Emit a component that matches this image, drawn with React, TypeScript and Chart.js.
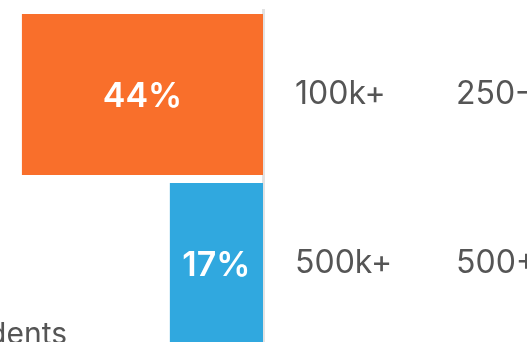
import React, { useEffect, useRef } from "react";
import { Chart, registerables } from "chart.js";

Chart.register(...registerables);

// ---- data ----
const categories: string[] = ["100k+", "500k+"];
const secondColumn: string[] = ["250-499", "500+"];
const values: number[] = [44, 17];
const valueLabels: string[] = ["44%", "17%"];
const barColors: string[] = ["#F96F2B", "#30A8DF"];
const footnote = "Respondents";

const FONT = "Inter, 'Noto Sans', 'DejaVu Sans', sans-serif";
const TEXT_COLOR = "#555555";

const valueLabelPlugin = {
  id: "valueLabelPlugin",
  afterDatasetsDraw(chart: any) {
    const { ctx } = chart;
    const meta = chart.getDatasetMeta(0);
    ctx.save();
    ctx.fillStyle = "#ffffff";
    ctx.font = `600 34px ${FONT}`;
    ctx.textAlign = "center";
    ctx.textBaseline = "middle";
    meta.data.forEach((bar: any, i: number) => {
      const { x, y, base } = bar.getProps(["x", "y", "base"], true);
      ctx.fillText(valueLabels[i], (x + base) / 2, y + 2);
    });
    ctx.restore();
  },
};

function noPad(scale: any, width: number) {
  scale.width = width;
  scale.paddingTop = 0;
  scale.paddingBottom = 0;
}

export default function App() {
  const canvasRef = useRef<HTMLCanvasElement | null>(null);

  useEffect(() => {
    if (!canvasRef.current) return;
    const chart = new Chart(canvasRef.current, {
      type: "bar",
      data: {
        labels: categories,
        datasets: [
          {
            data: values,
            backgroundColor: barColors,
            borderWidth: 0,
            categoryPercentage: 1,
            barPercentage: 161 / 169,
          },
        ],
      },
      options: {
        indexAxis: "y",
        responsive: false,
        animation: false,
        layout: { padding: { left: 0, top: 10, bottom: 12, right: 52 } },
        plugins: {
          legend: { display: false },
          tooltip: { enabled: false },
        },
        scales: {
          x: {
            type: "linear",
            reverse: true,
            min: 0,
            max: 48,
            display: false,
          },
          y: {
            type: "category",
            position: "right",
            weight: 1,
            grid: { display: false, drawTicks: false },
            border: { display: true, color: "#e3e3e3", width: 3 },
            ticks: {
              padding: 32,
              color: TEXT_COLOR,
              font: { family: FONT, size: 32, weight: "normal" },
            },
            afterFit(scale: any) {
              noPad(scale, 185);
            },
          },
          y2: {
            type: "category",
            labels: secondColumn,
            position: "right",
            weight: 2,
            offset: true,
            grid: { display: false, drawTicks: false },
            border: { display: false },
            ticks: {
              padding: 8,
              color: TEXT_COLOR,
              font: { family: FONT, size: 32, weight: "normal" },
            },
            afterFit(scale: any) {
              noPad(scale, 200);
            },
          },
        },
      } as any,
      plugins: [valueLabelPlugin],
    });
    return () => chart.destroy();
  }, []);

  return (
    <div
      style={{
        position: "fixed",
        left: 0,
        top: 0,
        width: 527,
        height: 342,
        overflow: "hidden",
        background: "#ffffff",
      }}
    >
      <canvas
        ref={canvasRef}
        width={700}
        height={360}
        style={{ position: "absolute", left: 0, top: 0, display: "block" }}
      />
      <div
        style={{
          position: "absolute",
          right: 527 - 67,
          top: 318,
          font: `30px ${FONT}`,
          lineHeight: "30px",
          color: TEXT_COLOR,
          whiteSpace: "nowrap",
        }}
      >
        {footnote}
      </div>
    </div>
  );
}
